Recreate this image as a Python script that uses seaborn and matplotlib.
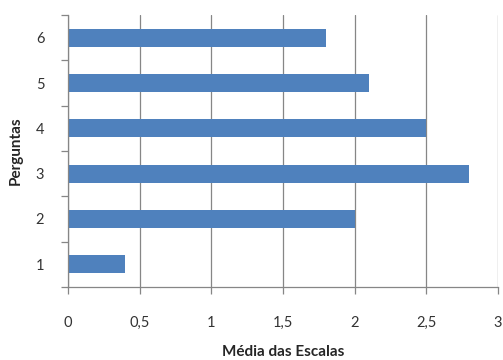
import matplotlib
matplotlib.use("Agg")
import matplotlib.pyplot as plt
import seaborn as sns
import pandas as pd
import numpy as np

perguntas = ["1", "2", "3", "4", "5", "6"]
medias = [0.4, 2.0, 2.8, 2.5, 2.1, 1.8]
x_ticks = [0, 0.5, 1, 1.5, 2, 2.5, 3]
x_tick_labels = ["0", "0,5", "1", "1,5", "2", "2,5", "3"]

df = pd.DataFrame({"Perguntas": perguntas, "Media": medias})

sns.set_theme(style="white")
plt.rcParams["font.family"] = ["Lato", "DejaVu Sans"]

fig = plt.figure(figsize=(5.03, 3.6), dpi=100)
ax = fig.add_axes([0.135, 0.203, 0.855, 0.755])

sns.barplot(data=df, x="Media", y="Perguntas", order=perguntas, orient="h",
            color="#4F81BD", saturation=1, width=0.4, linewidth=0, ax=ax)

ax.set_ylim(-0.5, 5.5)
ax.set_xlim(0, 3)

gray = "#868686"
ax.set_xticks(x_ticks)
ax.set_xticklabels(x_tick_labels, fontsize=10.5, color="#333333")
ax.grid(axis="x", color=gray, linewidth=0.9)
ax.set_axisbelow(True)

ax.set_yticks(range(len(perguntas)))
ax.set_yticklabels(perguntas, fontsize=10.5, color="#333333")
ax.set_yticks(np.arange(-0.5, len(perguntas), 1.0), minor=True)
ax.tick_params(axis="y", which="major", length=0, pad=17)
ax.tick_params(axis="y", which="minor", length=5, width=0.9, color=gray, left=True)
ax.tick_params(axis="x", which="major", length=5, width=0.9, color=gray, bottom=True, pad=16)

for s in ["top", "right"]:
    ax.spines[s].set_visible(False)
for s in ["left", "bottom"]:
    ax.spines[s].set_color(gray)
    ax.spines[s].set_linewidth(0.9)

ax.set_xlabel("Média das Escalas", fontsize=11, fontweight="bold", labelpad=11)
ax.set_ylabel("Perguntas", fontsize=11, fontweight="bold", labelpad=9)

fig.savefig("out.png", dpi=100)
